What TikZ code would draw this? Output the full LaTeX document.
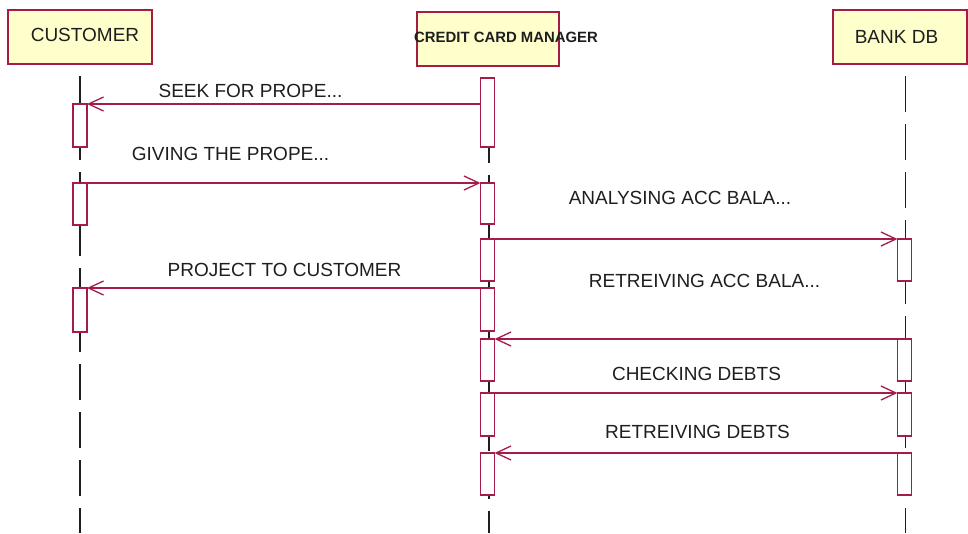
\documentclass[tikz,border=0pt]{standalone}
\usepackage{fontspec}
\setmainfont{Liberation Sans}
\usetikzlibrary{arrows.meta}
\definecolor{umlred}{RGB}{165,28,72}
\definecolor{umlfill}{RGB}{255,255,204}
\definecolor{ink}{RGB}{30,30,30}
\begin{document}
\begin{tikzpicture}[x=1pt,y=-1pt,
  actor/.style={draw=umlred, fill=umlfill, line width=2pt, rectangle,
    inner sep=0pt, outer sep=0pt, anchor=north west},
  act/.style={draw=umlred, fill=white, line width=1.5pt, rectangle,
    minimum width=14pt, inner sep=0pt, outer sep=0pt, anchor=north},
  life/.style={draw=ink, line width=1.6pt, dash pattern=on 36pt off 12pt},
  msg/.style={draw=umlred, line width=1.6pt,
    -{Straight Barb[length=15pt,width=14pt,line width=1.3pt]}},
  lbl/.style={text=ink, font=\fontsize{19}{19}\selectfont, inner sep=0pt, anchor=base},
  hlbl/.style={text=ink, font=\bfseries\fontsize{14.9}{14.9}\selectfont, inner sep=0pt, anchor=base west},
]
\useasboundingbox (0,0) rectangle (968,533);

% object headers
\node[actor, minimum width=144pt, minimum height=54.5pt] (cust) at (8,9.5) {};
\node[actor, minimum width=142pt, minimum height=54pt] (ccm) at (417,12) {};
\node[actor, minimum width=134pt, minimum height=54.5pt] (bank) at (833,9.5) {};
\node[lbl] (custname) at (85,41) {CUSTOMER};
\node[hlbl] (ccmname) at (414,42) {CREDIT CARD MANAGER};
\node[lbl] (bankname) at (896.5,43) {BANK DB};

% lifelines
\coordinate (custtop) at (80,76);   \coordinate (custend) at (80,533);
\coordinate (ccmtop) at (489,79);   \coordinate (ccmend) at (489,533);
\coordinate (banktop) at (905.5,76); \coordinate (bankend) at (905.5,533);
\draw[life] (custtop) -- (custend);
\draw[life] (ccmtop) -- (ccmend);
\draw[life] (banktop) -- (bankend);

% activation bars: customer
\node[act, minimum height=43pt] (c1) at (80,104) {};
\node[act, minimum height=42pt] (c2) at (80,183) {};
\node[act, minimum height=44pt] (c3) at (80,288) {};
% activation bars: credit card manager
\node[act, minimum height=69pt] (m1) at (487.5,78) {};
\node[act, minimum height=41pt] (m2) at (487.5,183) {};
\node[act, minimum height=42pt] (m3) at (487.5,239) {};
\node[act, minimum height=43pt] (m4) at (487.5,288) {};
\node[act, minimum height=42pt] (m5) at (487.5,339) {};
\node[act, minimum height=43pt] (m6) at (487.5,393) {};
\node[act, minimum height=42pt] (m7) at (487.5,453) {};
% activation bars: bank db
\node[act, minimum height=42pt] (b1) at (904.5,239) {};
\node[act, minimum height=42pt] (b2) at (904.5,339) {};
\node[act, minimum height=43pt] (b3) at (904.5,393) {};
\node[act, minimum height=42pt] (b4) at (904.5,453) {};

% messages
\draw[msg] (c1.north east -| m1.west) -- (c1.north east);
\draw[msg] (c2.north east) -- (m2.north west);
\draw[msg] (m3.north east) -- (b1.north west);
\draw[msg] (m4.north west) -- (c3.north east);
\draw[msg] (b2.north west) -- (m5.north east);
\draw[msg] (m6.north east) -- (b3.north west);
\draw[msg] (b4.north west) -- (m7.north east);

% message labels
\node[lbl] (l1) at (250.5,97) {SEEK FOR PROPE...};
\node[lbl] (l2) at (230.5,160) {GIVING THE PROPE...};
\node[lbl] (l3) at (680,204) {ANALYSING ACC BALA...};
\node[lbl] (l4) at (284.5,276) {PROJECT TO CUSTOMER};
\node[lbl] (l5) at (704.5,287) {RETREIVING ACC BALA...};
\node[lbl] (l6) at (696.5,380) {CHECKING DEBTS};
\node[lbl] (l7) at (697.5,438) {RETREIVING DEBTS};
\end{tikzpicture}
\end{document}
